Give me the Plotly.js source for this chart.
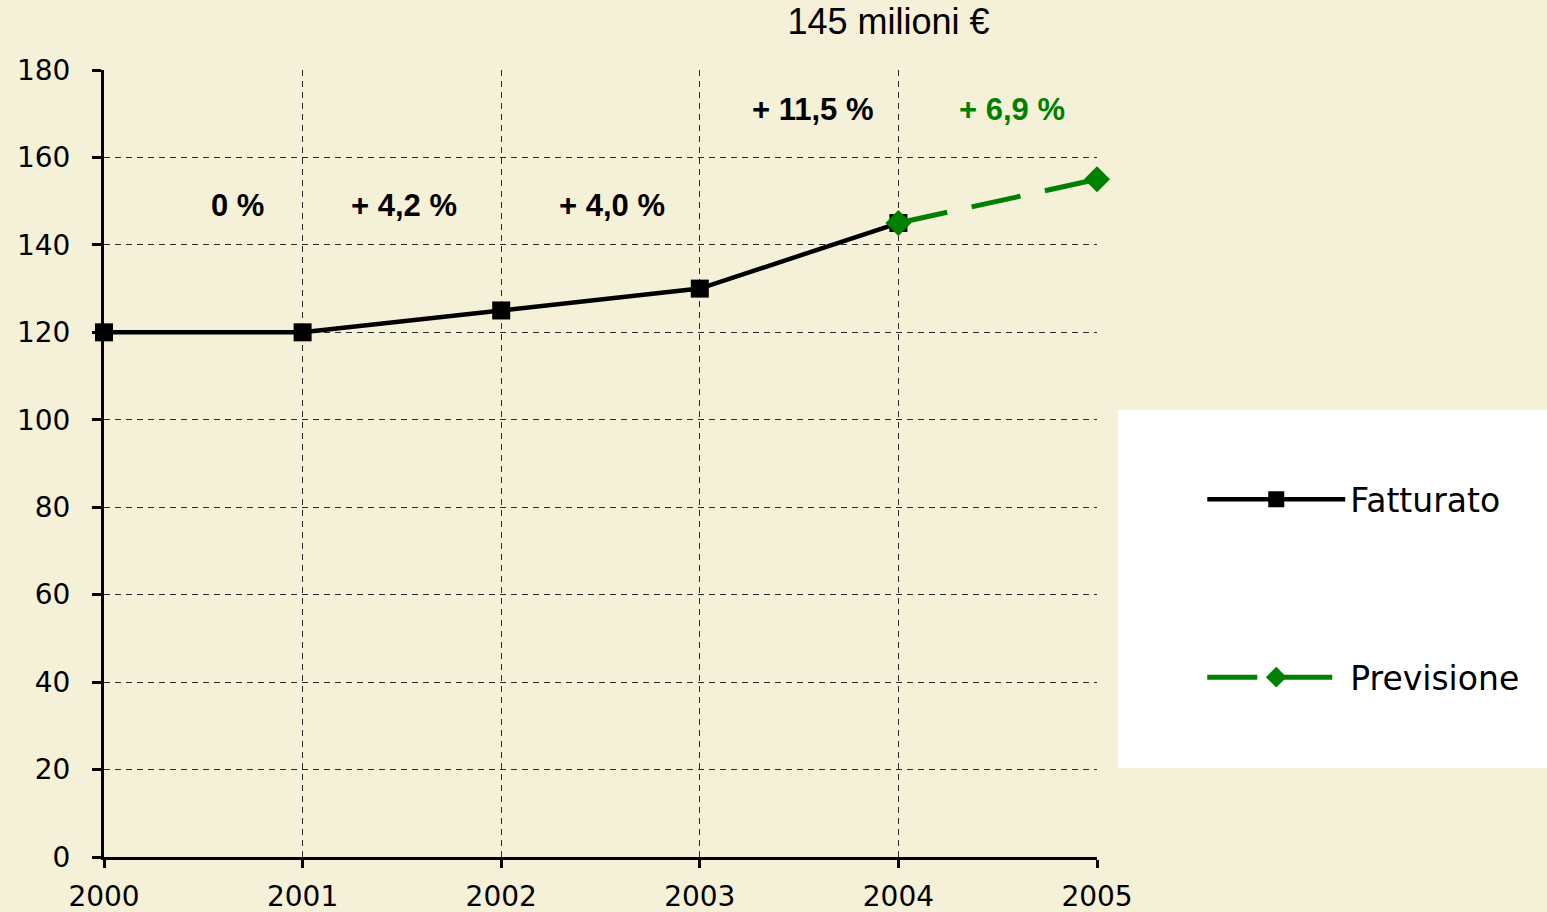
<!DOCTYPE html>
<html>
<head>
<meta charset="utf-8">
<script src="https://cdn.plot.ly/plotly-3.0.1.min.js"></script>
<style>
html,body{margin:0;padding:0;background:#F5F0D8;}
#chart{width:1547px;height:912px;}
</style>
</head>
<body>
<div id="chart"></div>
<script>
// Data
const years = [2000, 2001, 2002, 2003, 2004];
const fatturato = [120, 120, 125, 130, 145];
const previsioneYears = [2004, 2005];
const previsione = [145, 155];
const growthLabels = ["0 %", "+ 4,2 %", "+ 4,0 %", "+ 11,5 %", "+ 6,9 %"];
const growthX = [2000.67, 2001.51, 2002.56, 2003.57, 2004.57];
const growthY = [149, 149, 149, 171, 171];
const growthColors = ["#000000", "#000000", "#000000", "#000000", "#008000"];
const xTicks = [2000, 2001, 2002, 2003, 2004, 2005];
const yTicks = [0, 20, 40, 60, 80, 100, 120, 140, 160, 180];
const chartTitle = "145 milioni €";

const traces = [
  {
    x: years, y: fatturato, name: "Fatturato", type: "scatter", mode: "lines+markers",
    line: {color: "#000000", width: 4.5},
    marker: {symbol: "square", size: 18, color: "#000000"},
    legendgroup: "a", cliponaxis: false
  },
  {
    x: previsioneYears, y: previsione, name: "Previsione", type: "scatter", mode: "lines+markers",
    line: {color: "#008000", width: 5, dash: "50px,25px"},
    marker: {symbol: "diamond", size: 20, color: "#008000"},
    legendgroup: "b", cliponaxis: false
  }
];

const annotations = growthLabels.map((t, i) => ({
  x: growthX[i], y: growthY[i], xref: "x", yref: "y", text: "<b>" + t + "</b>",
  showarrow: false, font: {family: "Liberation Sans, Arial, sans-serif", size: 31, color: growthColors[i]},
  xanchor: "center", yanchor: "middle"
}));

const layout = {
  width: 1547, height: 912,
  paper_bgcolor: "#F5F0D8", plot_bgcolor: "rgba(0,0,0,0)",
  margin: {l: 104, r: 450, t: 70, b: 55, pad: 0},
  title: {
    text: chartTitle, x: 0.79, xref: "paper", xanchor: "center",
    y: 0.976, yref: "container", yanchor: "middle",
    font: {family: "Liberation Sans, Arial, sans-serif", size: 36, color: "#000000"}
  },
  xaxis: {
    range: [2000, 2005], tickvals: xTicks, ticktext: xTicks.map(String),
    showline: true, linecolor: "#000000", linewidth: 3,
    ticks: "outside", ticklen: 8, tickwidth: 3, tickcolor: "#000000",
    showgrid: true, gridcolor: "#2a2a2a", gridwidth: 1, griddash: "6px,5px",
    zeroline: false, ticklabelstandoff: 4,
    tickfont: {family: "DejaVu Sans, sans-serif", size: 28, color: "#000000"}
  },
  yaxis: {
    range: [0, 180], tickvals: yTicks,
    showline: true, linecolor: "#000000", linewidth: 3,
    ticks: "outside", ticklen: 9, tickwidth: 3, tickcolor: "#000000",
    showgrid: true, gridcolor: "#2a2a2a", gridwidth: 1, griddash: "6px,5px",
    zeroline: false, ticklabelstandoff: 16,
    tickfont: {family: "DejaVu Sans, sans-serif", size: 28, color: "#000000"}
  },
  showlegend: true,
  legend: {
    x: 1.106, xref: "paper", xanchor: "left",
    y: 0.49, yref: "paper", yanchor: "top",
    bgcolor: "rgba(0,0,0,0)", borderwidth: 0,
    itemwidth: 138, tracegroupgap: 132,
    font: {family: "DejaVu Sans, sans-serif", size: 33, color: "#000000"}
  },
  shapes: [{
    type: "rect", xref: "paper", yref: "paper",
    x0: 1.021, x1: 1.46, y0: 0.113, y1: 0.568,
    fillcolor: "#FFFFFF", line: {width: 0}, layer: "below"
  }],
  annotations: annotations
};

Plotly.newPlot("chart", traces, layout, {displayModeBar: false, staticPlot: true});
</script>
</body>
</html>
